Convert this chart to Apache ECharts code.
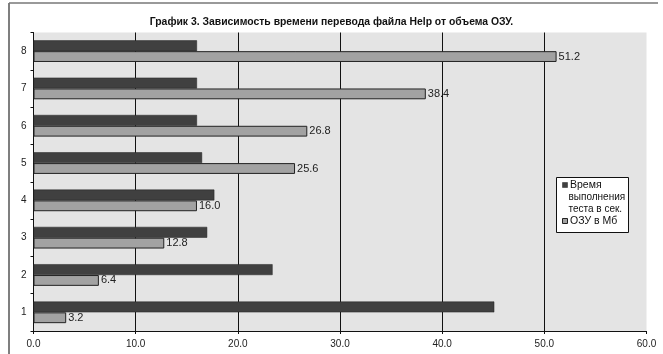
<!DOCTYPE html>
<html>
<head>
<meta charset="utf-8">
<script src="https://cdn.jsdelivr.net/npm/echarts@6/dist/echarts.min.js"></script>
<style>
  html, body { margin: 0; padding: 0; background: #ffffff; }
  #chart { width: 663px; height: 354px; }
</style>
</head>
<body>
<div id="chart"></div>
<script>
// Categories (test runs) and the two measured series
const categories = ['1', '2', '3', '4', '5', '6', '7', '8'];
const timeSeconds = [45.1, 23.4, 17.0, 17.7, 16.5, 16.0, 16.0, 16.0];
const ramMb = [3.2, 6.4, 12.8, 16.0, 25.6, 26.8, 38.4, 51.2];
const timeName = 'Время выполнения теста в сек.';
const ramName = 'ОЗУ в Мб';
const titleText = 'График 3. Зависимость времени перевода файла Help от объема ОЗУ.';
const legendLines = ['Время', 'выполнения', 'теста в сек.', 'ОЗУ в Мб'];

const FONT = '"Liberation Sans", Arial, sans-serif';
const DARK = '#404040';
const LIGHT = '#a2a2a2';

const chart = echarts.init(document.getElementById('chart'), null, { renderer: 'canvas' });

chart.setOption({
  animation: false,
  backgroundColor: '#ffffff',
  title: {
    text: titleText,
    left: 'center',
    top: 12,
    textStyle: { fontFamily: FONT, fontSize: 10.4, fontWeight: 'bold', color: '#111' }
  },
  grid: {
    left: 33.5, right: 16.5, top: 32.5, bottom: 23,
    show: true, backgroundColor: '#e4e4e4', borderWidth: 0
  },
  xAxis: {
    type: 'value',
    min: 0, max: 60, interval: 10,
    axisLine: { show: true, lineStyle: { color: '#111', width: 1 } },
    axisTick: { show: true, length: 3, lineStyle: { color: '#111' } },
    axisLabel: {
      margin: 8, fontFamily: FONT, fontSize: 10, color: '#222',
      formatter: v => v.toFixed(1)
    },
    splitLine: { show: true, showMinLine: false, showMaxLine: false, lineStyle: { color: '#111', width: 1 } }
  },
  yAxis: {
    type: 'category',
    data: categories,
    axisLine: { show: true, lineStyle: { color: '#111', width: 1 } },
    axisTick: { show: true, length: 3, lineStyle: { color: '#111' } },
    axisLabel: { margin: 7, fontFamily: FONT, fontSize: 10, color: '#222' },
    splitLine: { show: false }
  },
  series: [
    {
      name: timeName,
      type: 'bar',
      data: timeSeconds,
      barGap: '0%',
      barCategoryGap: '42%',
      itemStyle: { color: DARK, borderColor: '#222', borderWidth: 0.5 }
    },
    {
      name: ramName,
      type: 'bar',
      data: ramMb,
      barGap: '0%',
      barCategoryGap: '42%',
      itemStyle: { color: LIGHT, borderColor: '#222', borderWidth: 1 },
      label: {
        show: true, position: 'right', distance: 2,
        fontFamily: FONT, fontSize: 11, color: '#222',
        formatter: p => p.value.toFixed(1)
      }
    }
  ],
  graphic: [
    // outer frame (left and top edges)
    { type: 'line', shape: { x1: 9, y1: 3, x2: 9, y2: 354 }, style: { stroke: '#555', lineWidth: 1.5 }, silent: true },
    { type: 'line', shape: { x1: 9, y1: 3, x2: 658, y2: 3 }, style: { stroke: '#777', lineWidth: 1.5 }, silent: true },
    // legend box
    { type: 'rect', shape: { x: 556.5, y: 177.5, width: 72, height: 55 }, style: { fill: '#ffffff', stroke: '#111', lineWidth: 1 }, z: 10 },
    { type: 'rect', shape: { x: 562.5, y: 182.5, width: 5, height: 5 }, style: { fill: DARK, stroke: '#222', lineWidth: 0.5 }, z: 11 },
    { type: 'rect', shape: { x: 562.5, y: 218.5, width: 5, height: 5 }, style: { fill: LIGHT, stroke: '#222', lineWidth: 1 }, z: 11 },
    { type: 'text', x: 570, y: 185, style: { text: legendLines[0], fontFamily: FONT, fontSize: 10.5, fill: '#111', verticalAlign: 'middle' }, z: 11 },
    { type: 'text', x: 568.5, y: 197.5, style: { text: legendLines[1], fontFamily: FONT, fontSize: 10, fill: '#111', verticalAlign: 'middle' }, z: 11 },
    { type: 'text', x: 568.5, y: 209.5, style: { text: legendLines[2], fontFamily: FONT, fontSize: 10, fill: '#111', verticalAlign: 'middle' }, z: 11 },
    { type: 'text', x: 570, y: 221, style: { text: legendLines[3], fontFamily: FONT, fontSize: 10.5, fill: '#111', verticalAlign: 'middle' }, z: 11 }
  ]
});
</script>
</body>
</html>
